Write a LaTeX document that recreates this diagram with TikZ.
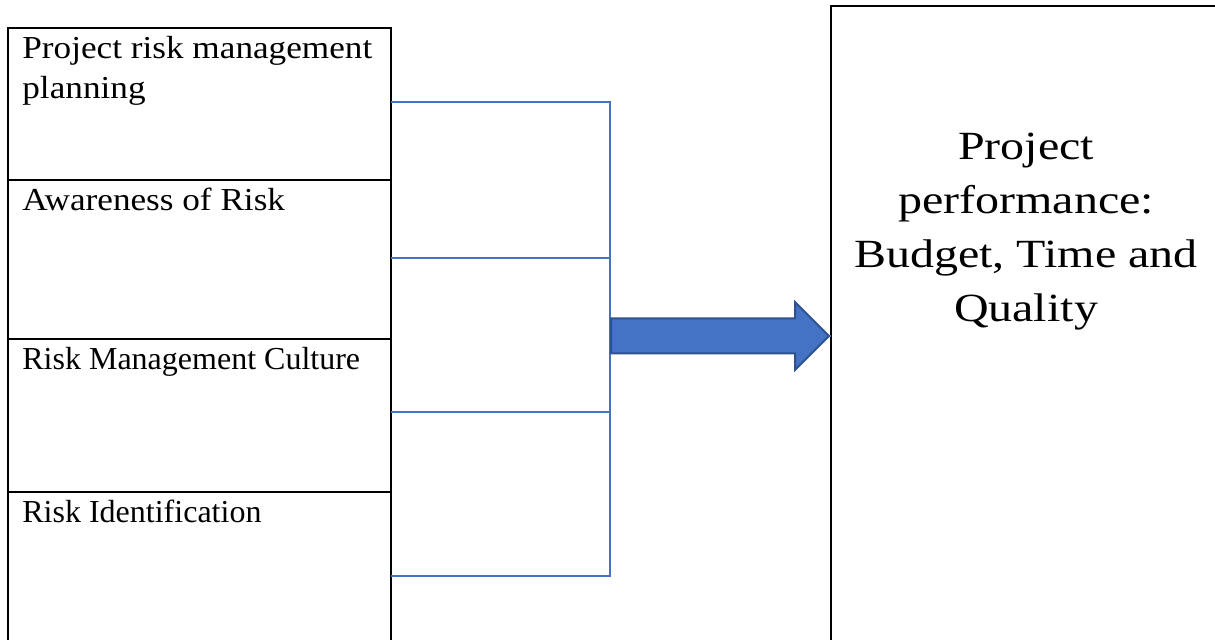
\documentclass[tikz,border=0pt]{standalone}
\usepackage{fontspec}
\setmainfont{Liberation Serif}
\newfontfamily\widefont[FakeStretch=1.1]{Liberation Serif}
\newfontfamily\perffont[FakeStretch=1.2]{Liberation Serif}
\usepackage{tikz}
\usetikzlibrary{arrows.meta,positioning,shapes.arrows}

\definecolor{linkblue}{HTML}{4472C4}
\definecolor{arrowedge}{HTML}{2F528F}

\begin{document}
\begin{tikzpicture}[
      x=0.5pt,y=-0.5pt,
      node distance=0pt,
      riskbox/.style={draw,line width=1pt,outer sep=0pt,minimum width=191.5pt,inner sep=0pt},
      boxtext/.style={anchor=base west,inner sep=0pt,xshift=7pt,yshift=-15.5pt,align=left,
        font=\fontsize{16}{20}\selectfont},
      link/.style={draw=linkblue,line width=0.6pt},
      bigarrow/.style={single arrow,draw=arrowedge,fill=linkblue,line width=1pt,
        single arrow head extend=8.25pt,single arrow head indent=0pt,
        inner xsep=0pt,inner ysep=8.25pt,text height=0pt,text depth=0pt,minimum height=109pt}
    ]
      \useasboundingbox (0,0) rectangle (1215,640);

      % Factors
      \node[riskbox,anchor=north west,minimum height=76pt,
        label={[boxtext,yshift=-20pt]north west:\widefont Project risk management\\\widefont planning}] (plan) at (8,28) {};
      \node[riskbox,below=of plan,minimum height=79.5pt,
        label={[boxtext]north west:\widefont Awareness of Risk}] (aware) {};
      \node[riskbox,below=of aware,minimum height=76.5pt,
        label={[boxtext]north west:Risk Management Culture}] (culture) {};
      \node[riskbox,below=of culture,minimum height=84pt,
        label={[boxtext]north west:Risk Identification}] (ident) {};

      % Outcome
      \node[draw,line width=1pt,anchor=north west,minimum width=200pt,minimum height=330pt] (perf) at (830,5) {};
      \node[align=center,font=\perffont\fontsize{20}{27}\selectfont] (perftext) at (1026,232)
        {Project\\performance:\\Budget, Time and\\Quality};

      % Bus joining the factors
      \coordinate (bus) at (610,0);
      \draw[link] ([yshift=1pt]plan.east) -- ([yshift=1pt]plan.east -| bus) -- (ident.east -| bus) -- (ident.east);
      \draw[link] ([yshift=0.75pt]aware.east) -- ([yshift=0.75pt]aware.east -| bus);
      \draw[link] ([yshift=1.75pt]culture.east) -- ([yshift=1.75pt]culture.east -| bus);

      % Arrow to performance
      \node[bigarrow,anchor=tail] (push) at (bus |- perf.west) {};
      \draw[link] (push.tip) -- (perf.west);
    \end{tikzpicture}
\end{document}
